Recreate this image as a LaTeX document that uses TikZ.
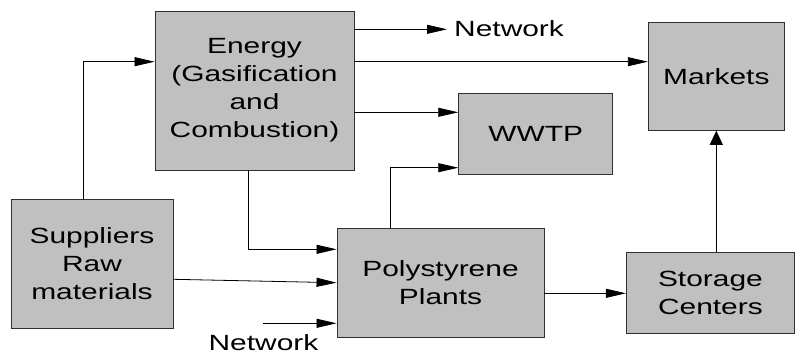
\documentclass[tikz,border=0pt]{standalone}
\usepackage{fontspec}
\newfontfamily\dfont[FakeStretch=1.36]{Liberation Sans}
\usetikzlibrary{arrows.meta}
\definecolor{boxgray}{HTML}{C0C0C0}
\definecolor{edgegray}{HTML}{303030}
\tikzset{
  blk/.style={draw=edgegray, fill=boxgray, line width=0.9pt, inner sep=0pt,
    align=center, font=\dfont\fontsize{22}{28}\selectfont},
  lbl/.style={inner sep=0pt, font=\dfont\fontsize{22}{28}\selectfont},
  harrow/.style={draw=black, line width=0.8pt, -{Triangle[length=20pt,width=9pt]}},
  varrow/.style={draw=black, line width=0.8pt, -{Triangle[length=14pt,width=13pt]}},
  plain/.style={draw=black, line width=0.8pt}
}
\begin{document}
\begin{tikzpicture}[x=1pt,y=-1pt]
\useasboundingbox (0,0) rectangle (795,356);

% process blocks
\node[blk, minimum width=199pt, minimum height=159pt] (energy) at (254.5,90.5)
  {Energy\\(Gasification\\and\\Combustion)};
\node[blk, minimum width=162pt, minimum height=129pt] (supp) at (92,263.5)
  {Suppliers\\Raw\\materials};
\node[blk, minimum width=207pt, minimum height=109pt] (poly) at (440.5,282.5)
  {Polystyrene\\Plants};
\node[blk, minimum width=154pt, minimum height=81pt] (wwtp) at (535.7,133.8)
  {WWTP};
\node[blk, minimum width=136pt, minimum height=108pt] (markets) at (716.3,76.3)
  {Markets};
\node[blk, minimum width=168pt, minimum height=81pt] (storage) at (710.4,292.7)
  {Storage\\Centers};

% free labels
\node[lbl, anchor=west] (netout) at (454,29) {Network};
\node[lbl] (netin) at (263.5,343) {Network};

% free ends and bend levels
\coordinate (netoutend) at (447,29.3);
\coordinate (netinstart) at (263.3,323.3);
\coordinate (lvlMarkets) at (0,61.7);
\coordinate (lvlWwtpA) at (0,112.3);
\coordinate (lvlWwtpB) at (0,167.7);
\coordinate (lvlPolyTop) at (0,249.3);
\coordinate (lvlSuppOut) at (0,279.3);
\coordinate (lvlSuppIn) at (0,282.7);
\coordinate (lvlStore) at (0,293.3);
\coordinate (colSupp) at (83.3,0);
\coordinate (colEnergy) at (248.3,0);
\coordinate (colPoly) at (390.7,0);

% connectors
\draw[harrow] (energy.east |- netoutend) -- (netoutend);
\draw[harrow] (energy.east |- lvlMarkets) -- (markets.west |- lvlMarkets);
\draw[harrow] (energy.east |- lvlWwtpA) -- (wwtp.west |- lvlWwtpA);
\draw[harrow] (colPoly |- poly.north) |- (wwtp.west |- lvlWwtpB);
\draw[harrow] (colSupp |- supp.north) |- (energy.west |- lvlMarkets);
\draw[harrow] (colEnergy |- energy.south) |- (poly.west |- lvlPolyTop);
\draw[harrow] (supp.east |- lvlSuppOut) -- (poly.west |- lvlSuppIn);
\draw[harrow] (netinstart) -- (poly.west |- netinstart);
\draw[harrow] (poly.east |- lvlStore) -- (storage.west |- lvlStore);
\draw[varrow] (markets.south |- storage.north) -- (markets.south);
\end{tikzpicture}
\end{document}
